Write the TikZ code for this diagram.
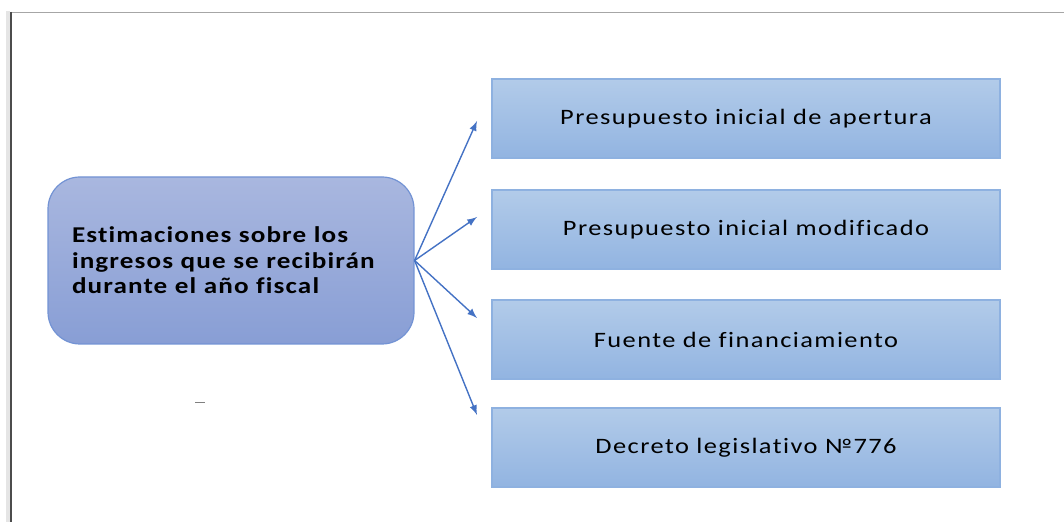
\documentclass[tikz,border=0pt]{standalone}
\usepackage{fontspec}
\setmainfont[Ligatures=NoCommon,FakeStretch=1.2,LetterSpace=6.5]{Carlito}
\newfontfamily\estfont[Ligatures=NoCommon,FakeStretch=1.2,LetterSpace=5]{Carlito}
\usetikzlibrary{shapes,arrows}
\usetikzlibrary{positioning}
\definecolor{arrowblue}{HTML}{4472C4}
\definecolor{lavtop}{HTML}{A9B7DF}
\definecolor{lavbot}{HTML}{889ED5}
\definecolor{lavline}{HTML}{7393D4}
\definecolor{itemtop}{HTML}{B2CBE9}
\definecolor{itembot}{HTML}{92B4E1}
\definecolor{itemline}{HTML}{8EB1E0}
\tikzset{
  estbox/.style={draw=lavline, line width=0.6pt, rounded corners=16pt,
    top color=lavtop, bottom color=lavbot, minimum width=183pt, minimum height=83.5pt,
    text width=159pt, align=left, inner sep=0pt, font=\estfont\bfseries\fontsize{11.3}{12.75}\selectfont},
  itembox/.style={draw=itemline, line width=0.6pt, top color=itemtop, bottom color=itembot,
    minimum width=254pt, minimum height=39.5pt, inner sep=0pt, font=\fontsize{11}{13}\selectfont},
}
\begin{document}
\begin{tikzpicture}[x=0.5pt,y=-0.5pt]
\useasboundingbox (0,0) rectangle (1064,522);
% frame
\fill[gray!20] (6,11) rectangle (10,522);
\draw[gray!70, line width=0.8pt] (10,12.5) -- (1064,12.5);
\draw[black!70, line width=1pt] (11,12) -- (11,522);
% boxes
\node[estbox] (est) at (231,260.5) {Estimaciones sobre los\\ingresos que se recibirán\\durante el año fiscal};
\node[itembox] (pia) at (746,118.5) {Presupuesto inicial de apertura};
\node[itembox] (pim) at (746,229.5) {Presupuesto inicial modificado};
\node[itembox] (ff) at (746,339.5) {Fuente de financiamiento};
\node[itembox] (dl) at (746,447.5) {Decreto legislativo №776};
\coordinate (tpia) at (477,121);
\coordinate (tpim) at (477,217);
\coordinate (tff) at (477,318);
\coordinate (tdl) at (477,415);
% arrows
\foreach \t in {tpia,tpim,tff,tdl}
  \draw[arrowblue, line width=0.7pt, -latex] (est.east) -- (\t);
\draw[gray, line width=0.5pt] (195,403) -- (205,403);
\end{tikzpicture}
\end{document}
